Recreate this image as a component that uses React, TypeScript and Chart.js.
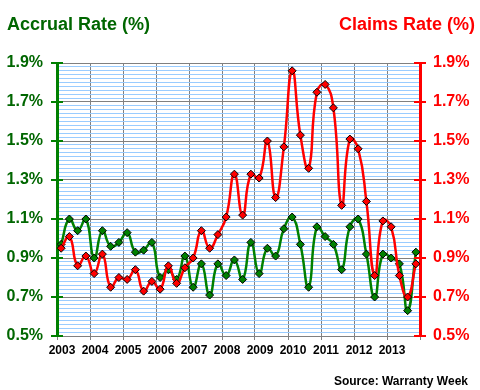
import { useEffect, useRef } from 'react';
import { Chart, registerables } from 'chart.js';

Chart.register(...registerables);

const yearLabels = ['2003', '2004', '2005', '2006', '2007', '2008', '2009', '2010', '2011', '2012', '2013'];

// Quarterly values, 2003 Q1 .. 2013 Q4
const accrualRate = [
  0.97, 1.10, 1.04, 1.10, 0.90, 1.04, 0.96, 0.98, 1.03, 0.93, 0.94, 0.98,
  0.80, 0.84, 0.79, 0.91, 0.75, 0.87, 0.71, 0.87, 0.81, 0.89, 0.79, 0.98,
  0.82, 0.95, 0.91, 1.05, 1.11, 0.97, 0.75, 1.06, 1.01, 0.97, 0.84, 1.06,
  1.10, 0.92, 0.70, 0.92, 0.90, 0.87, 0.63, 0.93,
];

const claimsRate = [
  0.95, 1.01, 0.86, 0.91, 0.82, 0.92, 0.75, 0.80, 0.79, 0.84, 0.73, 0.78,
  0.74, 0.86, 0.77, 0.85, 0.90, 1.04, 0.95, 1.02, 1.11, 1.33, 1.12, 1.33,
  1.31, 1.50, 1.21, 1.47, 1.86, 1.53, 1.36, 1.75, 1.79, 1.67, 1.17, 1.51,
  1.46, 1.19, 0.81, 1.09, 1.06, 0.81, 0.70, 0.87,
];

const yMajorTicks = [0.5, 0.7, 0.9, 1.1, 1.3, 1.5, 1.7, 1.9];

const GREEN_TEXT = '#006600';
const GREEN = '#008000';
const RED = '#ff0000';
const FONT = "'Liberation Sans', Arial, sans-serif";

const isMajor = (v: number) => {
  const t = Math.round(v * 10);
  return Math.abs(v * 10 - t) < 1e-6 && t % 2 === 1;
};

const crossTicks = {
  id: 'crossTicks',
  afterDraw(chart: any) {
    const { ctx } = chart;
    const y = chart.scales.y;
    const y1 = chart.scales.y1;
    ctx.save();
    ctx.lineWidth = 2;
    yMajorTicks.forEach((v) => {
      const py = Math.round(y.getPixelForValue(v));
      ctx.strokeStyle = GREEN;
      ctx.beginPath();
      ctx.moveTo(y.right - 6, py);
      ctx.lineTo(y.right + 6, py);
      ctx.stroke();
      ctx.strokeStyle = RED;
      ctx.beginPath();
      ctx.moveTo(y1.left - 6, py);
      ctx.lineTo(y1.left + 6, py);
      ctx.stroke();
    });
    ctx.restore();
  },
};

export default function App() {
  const ref = useRef<HTMLCanvasElement | null>(null);

  useEffect(() => {
    if (!ref.current) return;
    const chart = new Chart(ref.current, {
      type: 'line',
      data: {
        datasets: [
          {
            label: 'Claims Rate (%)',
            data: claimsRate.map((v, i) => ({ x: i + 0.5, y: v })),
            yAxisID: 'y1',
            borderColor: RED,
            backgroundColor: RED,
            borderWidth: 2.5,
            tension: 0.5,
            pointStyle: 'rectRot',
            pointRadius: 4,
            pointBorderColor: '#000',
            pointBorderWidth: 1,
            pointBackgroundColor: RED,
          },
          {
            label: 'Accrual Rate (%)',
            data: accrualRate.map((v, i) => ({ x: i + 0.5, y: v })),
            yAxisID: 'y',
            borderColor: GREEN,
            backgroundColor: GREEN,
            borderWidth: 2.5,
            tension: 0.5,
            pointStyle: 'rectRot',
            pointRadius: 4,
            pointBorderColor: '#000',
            pointBorderWidth: 1,
            pointBackgroundColor: GREEN,
          },
        ],
      },
      options: {
        animation: false,
        responsive: true,
        maintainAspectRatio: false,
        layout: { padding: { top: 63, left: 0, right: 0, bottom: 0 } },
        plugins: {
          legend: { display: false },
          tooltip: { enabled: false },
          title: { display: false },
        },
        scales: {
          x: {
            type: 'linear',
            min: 0,
            max: 44,
            afterFit: (s: any) => { s.height = 54; },
            ticks: {
              stepSize: 4,
              autoSkip: false,
              maxRotation: 0,
              padding: 3,
              labelOffset: 5,
              color: '#000',
              font: { family: FONT, size: 12, weight: 'bold' },
              callback: (v: any) => yearLabels[Math.round(Number(v) / 4)] ?? '',
            },
            grid: {
              color: '#808080',
              lineWidth: 1,
              drawTicks: true,
              tickLength: 4,
              tickColor: '#808080',
            },
            border: { color: '#808080', width: 1 },
          },
          y: {
            type: 'linear',
            position: 'left',
            min: 0.5,
            max: 1.9,
            afterFit: (s: any) => { s.width = 57; },
            ticks: {
              stepSize: 0.02,
              autoSkip: false,
              padding: 14,
              color: GREEN_TEXT,
              font: { family: FONT, size: 16, weight: 'bold' },
              callback: (v: any) => (isMajor(Number(v)) ? Number(v).toFixed(1) + '%' : ''),
            },
            grid: {
              drawTicks: false,
              lineWidth: 1,
              color: (c: any) => (isMajor(c.tick?.value ?? 0) ? '#808080' : '#99ccff'),
            },
            border: { color: GREEN, width: 3 },
          },
          y1: {
            type: 'linear',
            position: 'right',
            min: 0.5,
            max: 1.9,
            afterFit: (s: any) => { s.width = 60; },
            ticks: {
              stepSize: 0.02,
              autoSkip: false,
              padding: 13,
              color: RED,
              font: { family: FONT, size: 16, weight: 'bold' },
              callback: (v: any) => (isMajor(Number(v)) ? Number(v).toFixed(1) + '%' : ''),
            },
            grid: { drawOnChartArea: false, drawTicks: false },
            border: { color: RED, width: 3 },
          },
        },
      },
      plugins: [crossTicks],
    });
    return () => chart.destroy();
  }, []);

  return (
    <div style={{ position: 'fixed', left: 0, top: 0, width: 480, height: 390, background: '#fff', fontFamily: FONT }}>
      <canvas ref={ref} />
      <div style={{ position: 'absolute', left: 7, top: 14, fontSize: 18, fontWeight: 'bold', color: GREEN_TEXT, whiteSpace: 'nowrap' }}>
        Accrual Rate (%)
      </div>
      <div style={{ position: 'absolute', right: 5, top: 14, fontSize: 18, fontWeight: 'bold', color: RED, whiteSpace: 'nowrap' }}>
        Claims Rate (%)
      </div>
      <div style={{ position: 'absolute', right: 12, top: 374, fontSize: 12, fontWeight: 'bold', color: '#000', whiteSpace: 'nowrap' }}>
        Source: Warranty Week
      </div>
    </div>
  );
}
